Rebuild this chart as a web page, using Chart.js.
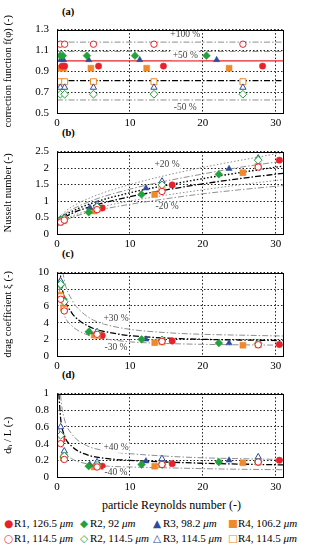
<!DOCTYPE html>
<html>
<head>
<meta charset="utf-8">
<script src="https://cdn.jsdelivr.net/npm/chart.js@4.4.0/dist/chart.umd.min.js"></script>
<style>
body { margin:0; width:309px; height:550px; background:#fff; position:relative; overflow:hidden; font-family:"Liberation Serif", serif; color:#000; }
canvas { position:absolute; left:0; }
.tag { position:absolute; left:62px; font-weight:bold; font-size:10.5px; line-height:12px; }
.xt { position:absolute; left:102px; font-size:12px; line-height:14px; white-space:nowrap; }
.lg { position:absolute; font-size:11px; line-height:12px; white-space:nowrap; }
.sym { position:absolute; font-family:"DejaVu Sans", sans-serif; font-size:10.5px; line-height:12px; }
</style>
</head>
<body>
<div class="tag" style="top:6px">(a)</div>
<div class="tag" style="top:127px">(b)</div>
<div class="tag" style="top:248px">(c)</div>
<div class="tag" style="top:369px">(d)</div>
<canvas id="cA" width="309" height="115" style="top:15px"></canvas>
<canvas id="cB" width="309" height="114" style="top:137px"></canvas>
<canvas id="cC" width="309" height="115" style="top:258px"></canvas>
<canvas id="cD" width="309" height="115" style="top:379px"></canvas>
<div class="xt" style="top:498px">particle Reynolds number (-)</div>

<span class="sym" style="left:4px;top:517px;color:#e8222b">●</span><span class="lg" style="left:14px;top:517px">R1, 126.5 <i>μm</i></span>
<span class="sym" style="left:80px;top:517px;color:#23a23c">◆</span><span class="lg" style="left:90px;top:517px">R2, 92 <i>μm</i></span>
<span class="sym" style="left:153px;top:517px;color:#2c4ca0">▲</span><span class="lg" style="left:163px;top:517px">R3, 98.2 <i>μm</i></span>
<span class="sym" style="left:228px;top:517px;color:#f0892a">■</span><span class="lg" style="left:238px;top:517px">R4, 106.2 <i>μm</i></span>
<span class="sym" style="left:4px;top:532px;color:#e8222b">○</span><span class="lg" style="left:14px;top:532px">R1, 114.5 <i>μm</i></span>
<span class="sym" style="left:80px;top:532px;color:#23a23c">◇</span><span class="lg" style="left:90px;top:532px">R2, 114.5 <i>μm</i></span>
<span class="sym" style="left:153px;top:532px;color:#2c4ca0">△</span><span class="lg" style="left:163px;top:532px">R3, 114.5 <i>μm</i></span>
<span class="sym" style="left:228px;top:532px;color:#f0892a">□</span><span class="lg" style="left:238px;top:532px">R4, 114.5 <i>μm</i></span>

<script>
// tick labels
var xTicks = [0, 10, 20, 30];
var yTicksA = [0.5, 0.7, 0.9, 1.1, 1.3];
var yTicksB = [0, 0.5, 1, 1.5, 2, 2.5];
var yTicksC = [0, 2, 4, 6, 8, 10];
var yTicksD = [0, 0.2, 0.4, 0.6, 0.8, 1];

// panel (a): Reynolds numbers and correction function f(phi)
var reA_R1 = [0.7, 1.05, 5.7, 14.6, 28.2];
var reA_R2 = [0.45, 0.8, 4.1, 10.7, 20.5];
var reA_R3 = [0.5, 0.9, 4.35, 11.35, 21.9];
var reA_R4 = [0.35, 0.9, 4.65, 12.3, 23.6];
var reA_open = [0.45, 1.05, 5.0, 13.3, 25.5];
var fR1 = [0.95, 0.95, 0.95, 0.95, 0.95];
var fR2 = [1.05, 1.05, 1.05, 1.05, 1.05];
var fR3 = [1.01, 1.01, 1.01, 1.01, 1.01];
var fR4 = [0.93, 0.93, 0.93, 0.93, 0.93];
var fR1o = [1.16, 1.16, 1.16, 1.16, 1.16];
var fR2o = [0.68, 0.68, 0.68, 0.68, 0.68];
var fR3o = [0.745, 0.745, 0.745, 0.745, 0.745];
var fR4o = [0.80, 0.80, 0.80, 0.80, 0.80];
var spanRe = [0, 31];
var fUnity = [1.0, 1.0];
var fRef = [0.81, 0.81];
var fPlus100 = [1.18, 1.18];
var fPlus50 = [1.09, 1.09];
var fMinus50 = [0.625, 0.625];

// panels (b)-(d): Reynolds numbers of the runs
var reR1 = [0.7, 1.0, 6.2, 15.8, 30.5];
var reR2 = [0.5, 0.9, 4.35, 11.6, 22.2];
var reR3 = [0.45, 1.0, 4.5, 12.2, 23.6];
var reR4 = [0.4, 0.9, 5.1, 13.4, 25.5];
var reOpen = [0.5, 1.0, 5.5, 14.4, 27.6];

// panel (b): Nusselt number
var nuR1 = [0.40, 0.42, 0.79, 1.49, 2.24];
var nuR2 = [0.45, 0.47, 0.66, 1.20, 1.81];
var nuR3 = [0.42, 0.48, 0.80, 1.39, 1.98];
var nuR4 = [0.35, 0.40, 0.70, 1.20, 1.86];
var nuR1o = [0.36, 0.42, 0.74, 1.29, 2.03];
var nuR2o = [0.40, 0.46, 0.82, 1.49, 2.24];
var nuR3o = [0.42, 0.50, 0.90, 1.60, 2.30];
var nuR4o = [0.38, 0.44, 0.76, 1.35, 2.05];
var reCurveB = [0, 0.5, 1, 2, 5, 10, 15, 20, 25, 31];
var nuCorr1 = [0.25, 0.45, 0.55, 0.68, 0.95, 1.25, 1.48, 1.68, 1.86, 2.06];
var nuCorr2 = [0.25, 0.42, 0.50, 0.62, 0.86, 1.13, 1.34, 1.52, 1.68, 1.84];
var nuCorr1Hi = [0.30, 0.54, 0.66, 0.82, 1.14, 1.50, 1.78, 2.02, 2.23, 2.47];
var nuCorr2Hi = [0.30, 0.50, 0.60, 0.74, 1.03, 1.36, 1.61, 1.82, 2.02, 2.21];
var nuCorr1Lo = [0.20, 0.36, 0.44, 0.54, 0.76, 1.00, 1.18, 1.34, 1.49, 1.65];
var nuCorr2Lo = [0.20, 0.34, 0.40, 0.50, 0.69, 0.90, 1.07, 1.22, 1.34, 1.47];

// panel (c): drag coefficient
var xiR1 = [6.9, 5.5, 2.45, 1.8, 1.37];
var xiR2 = [8.5, 6.8, 2.9, 2.0, 1.55];
var xiR3 = [9.0, 6.6, 2.9, 2.0, 1.55];
var xiR4 = [7.3, 5.8, 2.5, 1.6, 1.3];
var xiR1o = [6.8, 5.4, 2.6, 1.75, 1.35];
var xiR2o = [8.6, 6.5, 2.8, 1.9, 1.5];
var xiR3o = [9.0, 6.6, 2.9, 1.95, 1.55];
var xiR4o = [7.1, 5.6, 2.5, 1.7, 1.35];
var reCurveC = [0.3, 0.5, 1, 2, 3, 5, 7, 10, 15, 20, 25, 31];
var xiCorr = [12, 9.5, 7.0, 5.2, 4.3, 3.3, 2.85, 2.45, 2.15, 2.0, 1.92, 1.85];
var xiCorrHi = [15.6, 12.4, 9.1, 6.8, 5.6, 4.3, 3.7, 3.2, 2.8, 2.6, 2.5, 2.4];
var xiCorrLo = [8.4, 6.65, 4.9, 3.65, 3.0, 2.3, 2.0, 1.7, 1.5, 1.4, 1.34, 1.3];

// panel (d): dh/L
var dlR1 = [0.45, 0.22, 0.13, 0.16, 0.20];
var dlR2 = [0.50, 0.24, 0.13, 0.15, 0.18];
var dlR3 = [0.48, 0.26, 0.15, 0.19, 0.20];
var dlR4 = [0.47, 0.23, 0.12, 0.13, 0.17];
var dlR1o = [0.40, 0.21, 0.12, 0.15, 0.18];
var dlR2o = [0.50, 0.25, 0.14, 0.15, 0.18];
var dlR3o = [0.60, 0.31, 0.18, 0.22, 0.24];
var dlR4o = [0.46, 0.24, 0.13, 0.15, 0.18];
var reCurveD = [0.25, 0.5, 1, 2, 4, 7, 10, 15, 20, 25, 31];
var dlCorr = [1.0, 0.7, 0.5, 0.37, 0.27, 0.22, 0.2, 0.18, 0.165, 0.155, 0.145];
var dlCorrHi = [1.4, 0.98, 0.7, 0.52, 0.38, 0.31, 0.28, 0.25, 0.23, 0.22, 0.21];
var dlCorrLo = [0.6, 0.42, 0.3, 0.22, 0.16, 0.13, 0.12, 0.11, 0.1, 0.093, 0.087];

var RED = "#e8222b", GREEN = "#23a23c", BLUE = "#2c4ca0", ORANGE = "#f0892a", GREY = "#8f8f8f";
var DASHDOT = [6, 2, 1.5, 2], DOTTED = [1.5, 2];
var tickFont = { family: "Liberation Serif", size: 11 };

function zip(xs, ys) {
    return xs.map(function (x, i) { return { x: x, y: ys[i] }; });
}

function marks(xs, ys, color, style, open) {
    var r = { circle: 3.2, rectRot: 3.9, triangle: 3.6, rect: 4.2 }[style];
    return {
        data: zip(xs, ys), pointStyle: style, pointRadius: r,
        backgroundColor: open ? "#fff" : color, borderColor: color,
        borderWidth: open ? 1 : 0.5
    };
}

function curve(xs, ys, color, dash, width) {
    return {
        data: zip(xs, ys), showLine: true, pointRadius: 0, fill: false,
        borderColor: color, borderDash: dash, borderWidth: width || 1,
        cubicInterpolationMode: "monotone", order: 5
    };
}

function groups(x1, x2, x3, x4, xo, y) {
    return [
        marks(xo, y[4], RED, "circle", true),
        marks(xo, y[5], GREEN, "rectRot", true),
        marks(xo, y[6], BLUE, "triangle", true),
        marks(xo, y[7], ORANGE, "rect", true),
        marks(x1, y[0], RED, "circle", false),
        marks(x2, y[1], GREEN, "rectRot", false),
        marks(x3, y[2], BLUE, "triangle", false),
        marks(x4, y[3], ORANGE, "rect", false)
    ];
}

function makePanel(id, yMin, yMax, yTicks, yTitle, datasets, notes) {
    var notesPlugin = {
        id: "notes" + id,
        afterDatasetsDraw: function (chart) {
            var ctx = chart.ctx, sx = chart.scales.x, sy = chart.scales.y;
            ctx.save();
            ctx.font = "9.5px 'Liberation Serif'";
            ctx.textAlign = "center";
            ctx.textBaseline = "middle";
            notes.forEach(function (n) {
                var px = sx.getPixelForValue(n[1]), py = sy.getPixelForValue(n[2]);
                var w = ctx.measureText(n[0]).width;
                ctx.fillStyle = "#fff";
                ctx.fillRect(px - w / 2 - 1, py - 5, w + 2, 10);
                ctx.fillStyle = "#444";
                ctx.fillText(n[0], px, py);
            });
            ctx.restore();
        },
        afterDraw: function (chart) {
            var a = chart.chartArea, ctx = chart.ctx;
            ctx.save();
            ctx.strokeStyle = "#000";
            ctx.lineWidth = 1;
            ctx.strokeRect(Math.round(a.left) + 0.5, Math.round(a.top) + 0.5,
                Math.round(a.right - a.left), Math.round(a.bottom - a.top));
            ctx.restore();
        }
    };
    new Chart(document.getElementById(id), {
        type: "scatter",
        data: { datasets: datasets },
        options: {
            responsive: false,
            animation: false,
            layout: { padding: { top: 5, right: 26, left: 0, bottom: 0 } },
            plugins: { legend: { display: false }, tooltip: { enabled: false } },
            scales: {
                x: {
                    type: "linear", min: 0, max: 31,
                    afterBuildTicks: function (s) { s.ticks = xTicks.map(function (v) { return { value: v }; }); },
                    afterFit: function (s) { s.height = 17; },
                    grid: { color: "#222", lineWidth: 1, drawTicks: false },
                    border: { display: false, dash: DOTTED },
                    ticks: { padding: 4, font: tickFont, color: "#000", maxRotation: 0 }
                },
                y: {
                    type: "linear", min: yMin, max: yMax,
                    afterBuildTicks: function (s) { s.ticks = yTicks.map(function (v) { return { value: v }; }); },
                    afterFit: function (s) { s.width = 57; },
                    grid: { color: "#222", lineWidth: 1, drawTicks: false },
                    border: { display: false, dash: DOTTED },
                    ticks: { padding: 8, font: tickFont, color: "#000", callback: function (v) { return String(v); } },
                    title: { display: true, text: yTitle, color: "#000", padding: { top: 2, bottom: 0 }, font: { family: "Liberation Serif", size: 10.5 } }
                }
            }
        },
        plugins: [notesPlugin]
    });
}

makePanel("cA", 0.5, 1.3, yTicksA, "correction function f(φ) (-)",
    groups(reA_R1, reA_R2, reA_R3, reA_R4, reA_open, [fR1, fR2, fR3, fR4, fR1o, fR2o, fR3o, fR4o]).concat([
        curve(spanRe, fUnity, RED, [], 1.3),
        curve(spanRe, fRef, "#000", DASHDOT, 1.3),
        curve(spanRe, fPlus100, GREY, DASHDOT, 1),
        curve(spanRe, fPlus50, GREY, DASHDOT, 1),
        curve(spanRe, fMinus50, GREY, DASHDOT, 1)
    ]),
    [["+100 %", 17.6, 1.25], ["+50 %", 17.6, 1.055], ["-50 %", 17.6, 0.55]]);

makePanel("cB", 0, 2.5, yTicksB, "Nusselt number (-)",
    groups(reR1, reR2, reR3, reR4, reOpen, [nuR1, nuR2, nuR3, nuR4, nuR1o, nuR2o, nuR3o, nuR4o]).concat([
        curve(reCurveB, nuCorr1, "#000", DOTTED, 1.4),
        curve(reCurveB, nuCorr2, "#000", DASHDOT, 1.3),
        curve(reCurveB, nuCorr1Hi, GREY, DOTTED, 1),
        curve(reCurveB, nuCorr2Hi, GREY, DASHDOT, 1),
        curve(reCurveB, nuCorr1Lo, GREY, DOTTED, 1),
        curve(reCurveB, nuCorr2Lo, GREY, DASHDOT, 1)
    ]),
    [["+20 %", 15.1, 2.1], ["-20 %", 15.1, 0.83]]);

makePanel("cC", 0, 10, yTicksC, "drag coefficient ξ (-)",
    groups(reR1, reR2, reR3, reR4, reOpen, [xiR1, xiR2, xiR3, xiR4, xiR1o, xiR2o, xiR3o, xiR4o]).concat([
        curve(reCurveC, xiCorr, "#000", DASHDOT, 1.3),
        curve(reCurveC, xiCorrHi, GREY, DASHDOT, 1),
        curve(reCurveC, xiCorrLo, GREY, DASHDOT, 1)
    ]),
    [["+30 %", 8.1, 4.5], ["-30 %", 8.1, 1.0]]);

makePanel("cD", 0, 1, yTicksD, "dₕ / L (-)",
    groups(reR1, reR2, reR3, reR4, reOpen, [dlR1, dlR2, dlR3, dlR4, dlR1o, dlR2o, dlR3o, dlR4o]).concat([
        curve(reCurveD, dlCorr, "#000", DASHDOT, 1.3),
        curve(reCurveD, dlCorrHi, GREY, DASHDOT, 1),
        curve(reCurveD, dlCorrLo, GREY, DASHDOT, 1)
    ]),
    [["+40 %", 8.1, 0.35], ["-40 %", 8.1, 0.05]]);
</script>
</body>
</html>
